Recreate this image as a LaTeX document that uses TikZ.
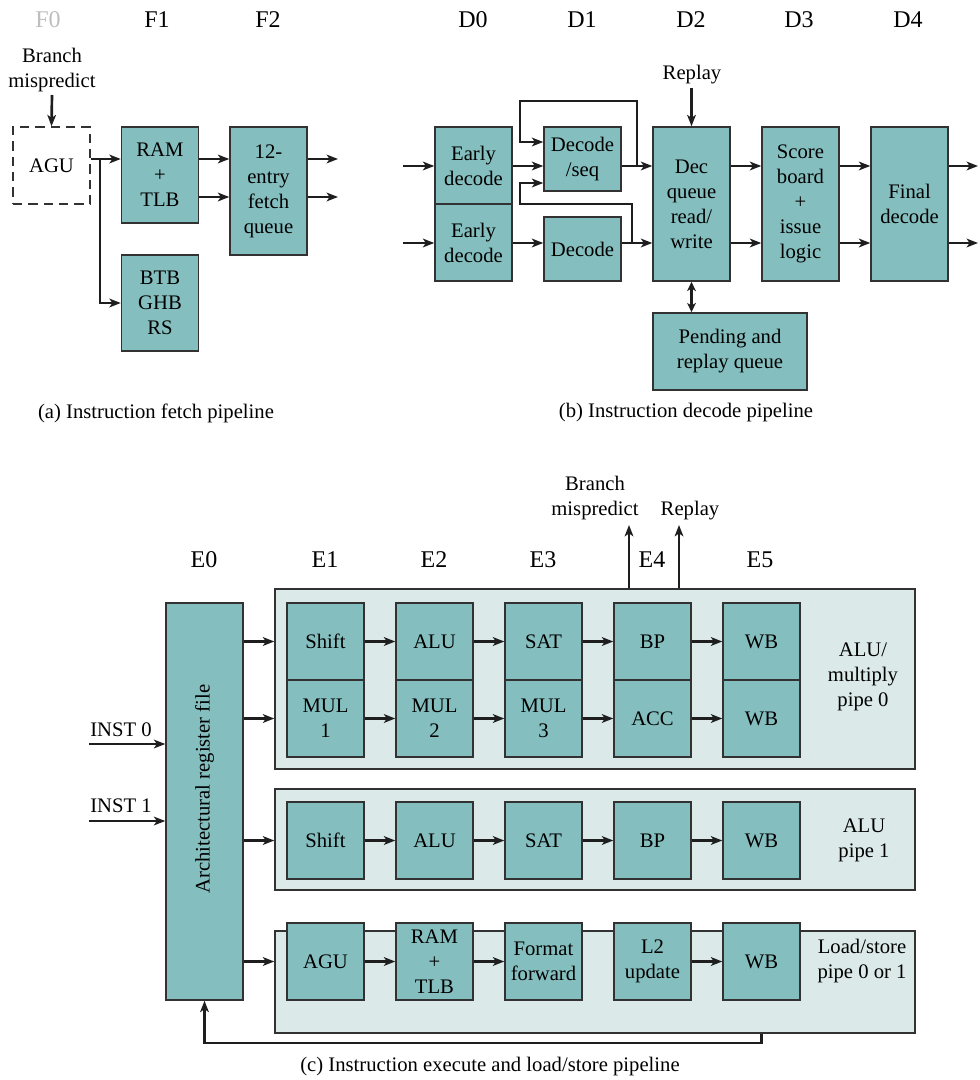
\documentclass[tikz,border=0pt]{standalone}
\usepackage{fontspec}
\setmainfont{Liberation Serif}
\newfontfamily\tms{Liberation Serif}
\usetikzlibrary{arrows.meta}
\definecolor{tealbox}{RGB}{132,190,190}
\definecolor{pipebg}{RGB}{219,233,233}
\definecolor{edgec}{RGB}{50,50,50}
\definecolor{stagegray}{RGB}{190,190,190}
\definecolor{linec}{RGB}{30,30,30}
\begin{document}
\begin{tikzpicture}[x=0.75pt,y=-0.75pt,
  every node/.style={font=\tms\fontsize{15.5}{18.75}\selectfont, inner sep=0pt, align=center},
  blk/.style={draw=edgec, fill=tealbox, line width=1.1pt, minimum width=57.75pt},
  cont/.style={draw=edgec, fill=pipebg, line width=1.1pt, minimum width=480pt},
  arr/.style={line width=2pt, draw=linec, -{Stealth[length=8.5pt,width=6.5pt,inset=2.2pt]}},
  darr/.style={line width=2pt, draw=linec, {Stealth[length=7pt,width=6.5pt,inset=2pt]}-{Stealth[length=7pt,width=6.5pt,inset=2pt]}},
  stage/.style={font=\tms\fontsize{18}{22}\selectfont}]
\useasboundingbox (0,0) rectangle (979,1080);

% ---------------- (a) fetch ----------------
\node[stage, text=stagegray] (f0) at (48,20) {F0};
\node[stage] (f1) at (157,20) {F1};
\node[stage] (f2) at (268,20) {F2};
\node (bm1) at (52,70) {Branch\\mispredict};
\node[draw=edgec, dash pattern=on 7pt off 4.5pt, line width=1.1pt, minimum width=57.75pt, minimum height=57.75pt] (agu) at (51.5,165.5) {AGU};
\node[blk, minimum height=72pt] (ram) at (160,175) {RAM\\+\\TLB};
\node[blk, minimum height=96pt] (fq) at (268.5,191) {12-\\entry\\fetch\\queue};
\node[blk, minimum height=72pt] (btb) at (160,303) {BTB\\GHB\\RS};
\coordinate (bmtop) at (52,95);
\coordinate (ya1) at (0,159);
\coordinate (ya2) at (0,197);
\coordinate (split) at (100,159);
\coordinate (fo1) at (338,159);
\coordinate (fo2) at (338,197);
\draw[arr] (bmtop) -- (agu.north);
\draw[arr] (agu.east |- ya1) -- (ram.west |- ya1);
\draw[arr] (split) |- (btb.west);
\draw[arr] (ram.east |- ya1) -- (fq.west |- ya1);
\draw[arr] (ram.east |- ya2) -- (fq.west |- ya2);
\draw[arr] (fq.east |- ya1) -- (fo1);
\draw[arr] (fq.east |- ya2) -- (fo2);
\node (capa) at (156,413) {(a) Instruction fetch pipeline};

% ---------------- (b) decode ----------------
\node[stage] (d0) at (473,20) {D0};
\node[stage] (d1) at (582,20) {D1};
\node[stage] (d2) at (691,20) {D2};
\node[stage] (d3) at (799,20) {D3};
\node[stage] (d4) at (908,20) {D4};
\node (rpl) at (692,75) {Replay};
\node[blk, minimum height=57.75pt] (ed1) at (473.5,165.5) {Early\\decode};
\node[blk, minimum height=57.75pt] (ed2) at (473.5,242.5) {Early\\decode};
\node[blk, minimum height=48pt] (dseq) at (582.5,159) {Decode\\/seq};
\node[blk, minimum height=48pt] (dec) at (582.5,249) {Decode};
\node[blk, minimum height=115.5pt] (dq) at (691.5,204) {Dec\\queue\\read/\\write};
\node[blk, minimum height=115.5pt] (sb) at (800.5,204) {Score\\board\\+\\issue\\logic};
\node[blk, minimum height=115.5pt] (fd) at (909.5,204) {Final\\decode};
\node[blk, minimum width=115.5pt, minimum height=57.75pt] (prq) at (730,351.5) {Pending and\\replay queue};
\coordinate (yd1) at (0,166);
\coordinate (yd2) at (0,243);
\coordinate (din1) at (403,166);
\coordinate (din2) at (403,243);
\coordinate (dout1) at (978,166);
\coordinate (dout2) at (978,243);
\coordinate (rptop) at (691.5,88);
\coordinate (j1) at (637,166);
\coordinate (l1) at (520,101);
\coordinate (l1b) at (0,142);
\coordinate (j2) at (632,243);
\coordinate (l2) at (520,204);
\coordinate (l2b) at (0,183);
\draw[arr] (din1) -- (ed1.west |- yd1);
\draw[arr] (din2) -- (ed2.west |- yd2);
\draw[arr] (ed1.east |- yd1) -- (dseq.west |- yd1);
\draw[arr] (ed2.east |- yd2) -- (dec.west |- yd2);
\draw[arr] (dseq.east |- yd1) -- (dq.west |- yd1);
\draw[arr] (dec.east |- yd2) -- (dq.west |- yd2);
\draw[arr] (j1) |- (l1) |- (dseq.west |- l1b);
\draw[arr] (j2) |- (l2) |- (dseq.west |- l2b);
\draw[arr] (rptop) -- (dq.north);
\draw[arr] (dq.east |- yd1) -- (sb.west |- yd1);
\draw[arr] (dq.east |- yd2) -- (sb.west |- yd2);
\draw[arr] (sb.east |- yd1) -- (fd.west |- yd1);
\draw[arr] (sb.east |- yd2) -- (fd.west |- yd2);
\draw[arr] (fd.east |- yd1) -- (dout1);
\draw[arr] (fd.east |- yd2) -- (dout2);
\draw[darr] (dq.south) -- (dq.south |- prq.north);
\node (capb) at (686,413) {(b) Instruction decode pipeline};

% ---------------- (c) execute ----------------
\node[stage] (e0) at (204,560) {E0};
\node[stage] (e1) at (325,560) {E1};
\node[stage] (e2) at (434,560) {E2};
\node[stage] (e3) at (543,560) {E3};
\node[stage] (e4) at (652,560) {E4};
\node[stage] (e5) at (760,560) {E5};
\node (bm2) at (595,498) {Branch\\mispredict};
\node (rpl2) at (690,511) {Replay};

\node[cont, minimum height=135pt] (c0) at (595,679) {};
\node[cont, minimum height=75.75pt] (c1) at (595,839.5) {};
\node[cont, minimum height=76.5pt] (c2) at (595,982) {};

\node[blk, minimum height=297.75pt] (rf) at (204.5,801.5) {};
\node[rotate=90] (rft) at (204.5,789) {Architectural register file};

% pipe 0
\node[blk, minimum height=57.75pt] (a1) at (325.5,641.5) {Shift};
\node[blk, minimum height=57.75pt] (a2) at (434.5,641.5) {ALU};
\node[blk, minimum height=57.75pt] (a3) at (543.5,641.5) {SAT};
\node[blk, minimum height=57.75pt] (a4) at (652.5,641.5) {BP};
\node[blk, minimum height=57.75pt] (a5) at (761.5,641.5) {WB};
\node[blk, minimum height=57.75pt] (m1) at (325.5,718.5) {MUL\\1};
\node[blk, minimum height=57.75pt] (m2) at (434.5,718.5) {MUL\\2};
\node[blk, minimum height=57.75pt] (m3) at (543.5,718.5) {MUL\\3};
\node[blk, minimum height=57.75pt] (m4) at (652.5,718.5) {ACC};
\node[blk, minimum height=57.75pt] (m5) at (761.5,718.5) {WB};
\node (lab0) at (863,677) {ALU/\\multiply\\pipe 0};
% pipe 1
\node[blk, minimum height=57.75pt] (b1) at (325.5,840.5) {Shift};
\node[blk, minimum height=57.75pt] (b2) at (434.5,840.5) {ALU};
\node[blk, minimum height=57.75pt] (b3) at (543.5,840.5) {SAT};
\node[blk, minimum height=57.75pt] (b4) at (652.5,840.5) {BP};
\node[blk, minimum height=57.75pt] (b5) at (761.5,840.5) {WB};
\node (lab1) at (864,840) {ALU\\pipe 1};
% pipe 2
\node[blk, minimum height=57.75pt] (s1) at (325.5,961.5) {AGU};
\node[blk, minimum height=57.75pt] (s2) at (434.5,961.5) {RAM\\+\\TLB};
\node[blk, minimum height=57.75pt] (s3) at (543.5,961.5) {Format\\forward};
\node[blk, minimum height=57.75pt] (s4) at (652.5,961.5) {L2\\update};
\node[blk, minimum height=57.75pt] (s5) at (761.5,961.5) {WB};
\node (lab2) at (862,961) {Load/store\\pipe 0 or 1};

\foreach \p/\q in {a1/a2,a2/a3,a3/a4,a4/a5,m1/m2,m2/m3,m3/m4,m4/m5,b1/b2,b2/b3,b3/b4,b4/b5,s1/s2,s2/s3,s4/s5}
  \draw[arr] (\p.east) -- (\q.west);

\draw[arr] (rf.east |- a1) -- (c0.west |- a1);
\draw[arr] (rf.east |- m1) -- (c0.west |- m1);
\draw[arr] (rf.east |- b1) -- (c1.west |- b1);
\draw[arr] (rf.east |- s1) -- (c2.west |- s1);

\coordinate (bmt) at (629,525);
\coordinate (rpt) at (679,525);
\draw[arr] (c0.north -| bmt) -- (bmt);
\draw[arr] (c0.north -| rpt) -- (rpt);

\coordinate (i0s) at (89,744);
\coordinate (i1s) at (89,821);
\node (i0) at (121,730) {INST 0};
\node (i1) at (121,806) {INST 1};
\draw[arr] (i0s) -- (rf.west |- i0s);
\draw[arr] (i1s) -- (rf.west |- i1s);

\coordinate (fb) at (0,1043);
\draw[arr] (c2.south -| s5) -- (s5 |- fb) -| (rf.south);

\node (capc) at (490,1067) {(c) Instruction execute and load/store pipeline};
\end{tikzpicture}
\end{document}
